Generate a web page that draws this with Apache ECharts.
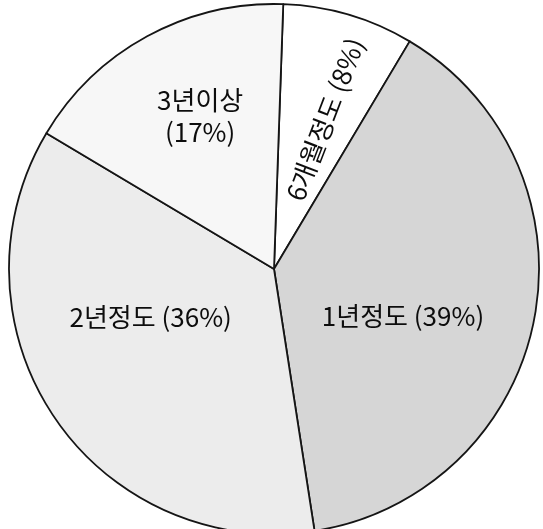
<!DOCTYPE html>
<html>
<head>
<meta charset="utf-8">
<script src="https://cdn.jsdelivr.net/npm/echarts@6/dist/echarts.min.js"></script>
<style>
html,body{margin:0;padding:0;background:#ffffff;}
#chart{width:543px;height:529px;}
</style>
</head>
<body>
<div id="chart"></div>
<script>
// Data
var categories = ['6개월정도', '1년정도', '2년정도', '3년이상'];
var percents = [8, 39, 36, 17];

// Styling (not data)
var sliceColors = ['#ffffff', '#d6d6d6', '#ececec', '#f7f7f7'];
var labelShift = [[23, 5], [-4, 21], [-11, -28], [-9, -34]];
var labelRotate = [69, 0, 0, 0];

var pieData = categories.map(function (name, i) {
  return {
    name: name,
    value: percents[i],
    itemStyle: { color: sliceColors[i] },
    label: { rotate: labelRotate[i] }
  };
});

var chart = echarts.init(document.getElementById('chart'), null, { renderer: 'canvas' });
chart.setOption({
  backgroundColor: '#ffffff',
  animation: false,
  series: [{
    type: 'pie',
    center: [274, 269],
    radius: [0, 265],
    startAngle: 88,
    clockwise: true,
    avoidLabelOverlap: false,
    data: pieData,
    itemStyle: { borderColor: '#151515', borderWidth: 1.8 },
    emphasis: { disabled: true },
    label: {
      show: true,
      position: 'inside',
      color: '#0d0d0d',
      fontFamily: '"Noto Sans CJK KR", "Noto Sans", sans-serif',
      fontSize: 26,
      lineHeight: 32,
      formatter: function (p) {
        var sep = (p.dataIndex === 3) ? '\n' : ' ';
        return p.name + sep + '(' + p.value + '%)';
      }
    },
    labelLine: { show: false },
    labelLayout: function (params) {
      var s = labelShift[params.dataIndex];
      return { dx: s[0], dy: s[1] };
    }
  }]
});
</script>
</body>
</html>
